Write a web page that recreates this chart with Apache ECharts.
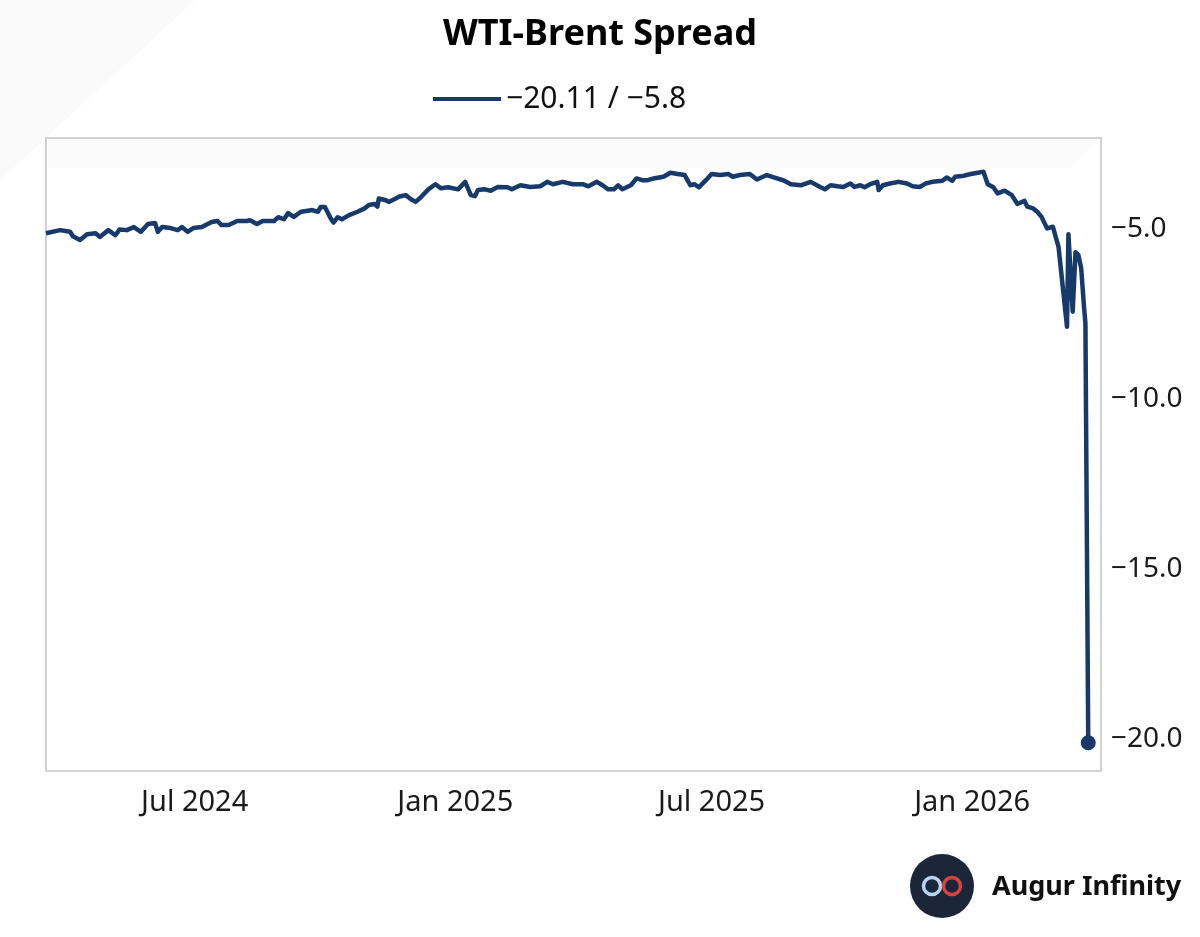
<!DOCTYPE html>
<html>
<head>
<meta charset="utf-8">
<script src="https://cdn.jsdelivr.net/npm/echarts@6.0.0/dist/echarts.min.js"></script>
<style>
html,body{margin:0;padding:0;background:#fff;}
#chart{width:1200px;height:937px;}
</style>
</head>
<body>
<div id="chart"></div>
<script>
const chartTitle = 'WTI-Brent Spread';
const seriesName = '\u221220.11 / \u22125.8';
const brandName = 'Augur Infinity';

const dates = [
'2024-03-18','2024-03-28','2024-04-04','2024-04-06','2024-04-11','2024-04-16','2024-04-22','2024-04-25',
'2024-05-01','2024-05-06','2024-05-09','2024-05-14','2024-05-19','2024-05-24','2024-05-29','2024-06-03',
'2024-06-05','2024-06-08','2024-06-14','2024-06-19','2024-06-22','2024-06-26','2024-06-30','2024-07-06',
'2024-07-13','2024-07-17','2024-07-20','2024-07-25','2024-07-31','2024-08-07','2024-08-09','2024-08-14',
'2024-08-18','2024-08-26','2024-08-29','2024-09-02','2024-09-05','2024-09-09','2024-09-14','2024-09-19',
'2024-09-22','2024-09-26','2024-09-28','2024-10-01','2024-10-05','2024-10-07','2024-10-10','2024-10-13',
'2024-10-18','2024-10-24','2024-10-29','2024-11-01','2024-11-05','2024-11-07','2024-11-08','2024-11-13',
'2024-11-15','2024-11-20','2024-11-22','2024-11-27','2024-12-01','2024-12-04','2024-12-08','2024-12-13',
'2024-12-18','2024-12-22','2024-12-27','2025-01-03','2025-01-08','2025-01-12','2025-01-15','2025-01-17',
'2025-01-22','2025-01-26','2025-01-31','2025-02-07','2025-02-10','2025-02-16','2025-02-23','2025-03-02',
'2025-03-07','2025-03-11','2025-03-18','2025-03-25','2025-04-01','2025-04-05','2025-04-11','2025-04-15',
'2025-04-19','2025-04-23','2025-04-26','2025-04-29','2025-05-05','2025-05-09','2025-05-13','2025-05-17',
'2025-05-21','2025-05-28','2025-06-02','2025-06-07','2025-06-12','2025-06-16','2025-06-19','2025-06-22',
'2025-06-27','2025-07-01','2025-07-07','2025-07-13','2025-07-16','2025-07-21','2025-07-28','2025-08-02',
'2025-08-09','2025-08-14','2025-08-21','2025-08-26','2025-09-02','2025-09-09','2025-09-16','2025-09-19',
'2025-09-23','2025-09-28','2025-10-02','2025-10-07','2025-10-10','2025-10-14','2025-10-17','2025-10-21',
'2025-10-26','2025-10-27','2025-10-30','2025-11-04','2025-11-10','2025-11-16','2025-11-20','2025-11-25',
'2025-11-29','2025-12-04','2025-12-11','2025-12-14','2025-12-18','2025-12-20','2025-12-25','2025-12-31',
'2026-01-05','2026-01-09','2026-01-12','2026-01-16','2026-01-19','2026-01-24','2026-01-29','2026-02-02',
'2026-02-07','2026-02-09','2026-02-13','2026-02-16','2026-02-19','2026-02-23','2026-02-27','2026-03-03',
'2026-03-09','2026-03-10','2026-03-13','2026-03-15','2026-03-17','2026-03-19','2026-03-21','2026-03-22',
'2026-03-24'
];

const spread = [
-5.12,-5.03,-5.08,-5.21,-5.32,-5.15,-5.12,-5.23,
-5.03,-5.18,-5.01,-5.03,-4.94,-5.08,-4.85,-4.82,
-5.08,-4.94,-4.97,-5.03,-4.94,-5.08,-4.97,-4.94,
-4.79,-4.76,-4.88,-4.88,-4.76,-4.76,-4.74,-4.85,
-4.76,-4.76,-4.65,-4.71,-4.53,-4.64,-4.49,-4.46,
-4.44,-4.49,-4.35,-4.35,-4.68,-4.81,-4.65,-4.71,
-4.59,-4.49,-4.39,-4.29,-4.26,-4.34,-4.10,-4.15,
-4.20,-4.10,-4.05,-4.00,-4.13,-4.20,-4.05,-3.83,
-3.68,-3.80,-3.77,-3.83,-3.61,-4.00,-4.03,-3.85,
-3.83,-3.87,-3.76,-3.77,-3.83,-3.71,-3.76,-3.74,
-3.61,-3.68,-3.61,-3.68,-3.68,-3.74,-3.61,-3.71,
-3.83,-3.83,-3.71,-3.83,-3.71,-3.51,-3.56,-3.56,
-3.51,-3.46,-3.34,-3.38,-3.41,-3.71,-3.68,-3.77,
-3.56,-3.38,-3.41,-3.38,-3.46,-3.41,-3.38,-3.54,
-3.41,-3.48,-3.57,-3.68,-3.71,-3.61,-3.77,-3.83,
-3.71,-3.74,-3.76,-3.66,-3.76,-3.71,-3.77,-3.68,
-3.61,-3.85,-3.71,-3.66,-3.61,-3.66,-3.74,-3.76,
-3.66,-3.61,-3.58,-3.48,-3.58,-3.46,-3.44,-3.38,
-3.34,-3.31,-3.68,-3.77,-3.95,-3.87,-4.00,-4.26,
-4.17,-4.34,-4.39,-4.49,-4.64,-4.98,-4.93,-5.52,
-7.87,-5.15,-7.43,-5.68,-5.76,-6.15,-7.29,-7.77,
-20.11
];

const xTickDates = ['2024-07-01','2025-01-01','2025-07-01','2026-01-01'];
const yTickValues = [-20, -15, -10, -5];
const xMin = '2024-03-18';
const xMax = '2026-04-02';
const yMin = -20.94;
const yMax = -2.32;

const monthNames = ['Jan','Feb','Mar','Apr','May','Jun','Jul','Aug','Sep','Oct','Nov','Dec'];
const toTs = s => { const p = s.split('-').map(Number); return Date.UTC(p[0], p[1]-1, p[2]); };

const lineData = dates.map((d, i) => [toTs(d), spread[i]]);
const lastPoint = [lineData[lineData.length - 1]];
const xTicks = xTickDates.map(toTs);

const navy = '#173a6a';
const font = '"Noto Sans", Lato, sans-serif';

const chart = echarts.init(document.getElementById('chart'), null, {renderer: 'canvas'});
chart.setOption({
  backgroundColor: '#ffffff',
  animation: false,
  graphic: [
    { type: 'polygon', z: -10, silent: true,
      shape: { points: [[0,0],[195,0],[0,180]] },
      style: { fill: '#fafafa' } },
    { type: 'polygon', z: -10, silent: true,
      shape: { points: [[48,140],[1099,140],[1070,168],[48,168]] },
      style: { fill: '#fbfbfb' } },
    { type: 'circle', z: 10, shape: { cx: 942, cy: 886, r: 32 }, style: { fill: '#1b2638' } },
    { type: 'circle', z: 11, shape: { cx: 932, cy: 886, r: 8.5 },
      style: { fill: 'none', stroke: '#b9d4ee', lineWidth: 3.5 } },
    { type: 'circle', z: 11, shape: { cx: 952, cy: 886, r: 8.5 },
      style: { fill: 'none', stroke: '#d8433f', lineWidth: 3.5 } },
    { type: 'text', z: 10, x: 992, y: 887,
      style: { text: brandName, font: 'bold 27px ' + font, fill: '#111111', textVerticalAlign: 'middle' } }
  ],
  title: {
    text: chartTitle,
    left: 'center',
    top: 12,
    textStyle: { fontFamily: font, fontWeight: 'bold', fontSize: 36, color: '#000000' }
  },
  legend: {
    top: 79,
    left: 428,
    icon: 'rect',
    itemWidth: 68,
    itemHeight: 4,
    itemGap: 14,
    textStyle: { fontFamily: font, fontSize: 30, color: '#111111' },
    data: [seriesName]
  },
  grid: {
    left: 46, right: 99, top: 138, bottom: 166,
    show: true, borderColor: '#d2d2d2', borderWidth: 2, backgroundColor: 'transparent'
  },
  xAxis: {
    type: 'value',
    min: toTs(xMin),
    max: toTs(xMax),
    axisLine: { show: false },
    axisTick: { show: false },
    splitLine: { show: false },
    axisLabel: {
      customValues: xTicks,
      margin: 17,
      fontFamily: font, fontSize: 29, color: '#1a1a1a',
      formatter: v => { const d = new Date(v); return monthNames[d.getUTCMonth()] + ' ' + d.getUTCFullYear(); }
    }
  },
  yAxis: {
    type: 'value',
    position: 'right',
    min: yMin,
    max: yMax,
    axisLine: { show: false },
    axisTick: { show: false },
    splitLine: { show: false },
    axisLabel: {
      customValues: yTickValues,
      margin: 10,
      fontFamily: font, fontSize: 28, color: '#1a1a1a',
      formatter: v => (v < 0 ? '\u2212' : '') + Math.abs(v).toFixed(1)
    }
  },
  series: [
    {
      name: seriesName,
      type: 'line',
      data: lineData,
      showSymbol: false,
      symbol: 'none',
      lineStyle: { color: navy, width: 4.5, join: 'round' },
      itemStyle: { color: navy }
    },
    {
      name: 'last',
      type: 'scatter',
      data: lastPoint,
      symbol: 'circle',
      symbolSize: 15,
      itemStyle: { color: navy, opacity: 1 }
    }
  ]
});
</script>
</body>
</html>
